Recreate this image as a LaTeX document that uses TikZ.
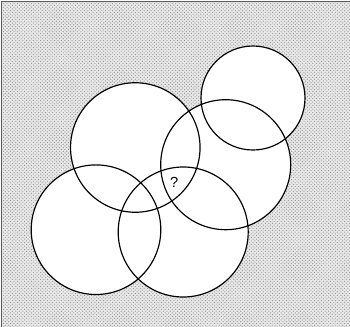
\documentclass[tikz,border=0pt]{standalone}
\usepackage{fontspec}
\setmainfont{Liberation Sans}
\usepackage{tikz}
\usetikzlibrary{patterns,backgrounds}
\definecolor{framegray}{RGB}{90, 90, 90}
\definecolor{hatchgray}{RGB}{140, 140, 140}

\begin{document}
\begin{tikzpicture}[x=0.3mm, y=-0.3mm,
    ring/.style={circle, draw=black, line width=1pt, inner sep=0pt}]
\useasboundingbox (0,0) rectangle (350,327);
% Draw the five overlapping circles
\foreach \name/\x/\y/\d in {a/135.3/147.5/129.5, b/253/98/104, c/225.7/164.7/130, d/96/229.7/129.6, e/183.2/232/130} {
    \node[ring, minimum size=\d*0.3mm] (\name) at (\x,\y) {};
}
% Unknown region
\node[font=\fontsize{12.5}{14}\selectfont] (q) at (174.3,182.7) {?};
% Hatched background and white discs
\begin{pgfonlayer}{background}
    \fill[white] (0,0) rectangle (350,327);
    \fill[gray!18] (1,1) rectangle (352,329);
    \fill[pattern=crosshatch dots, pattern color=hatchgray] (1,1) rectangle (352,329);
    \draw[framegray, line width=0.6pt] (1,329) -- (1,1) -- (352,1);
    \foreach \name/\d in {a/129.5, b/104, c/130, d/129.6, e/130} {
        \fill[white] (\name.center) circle[radius=\d*0.15mm];
    }
\end{pgfonlayer}
\end{tikzpicture}
\end{document}
